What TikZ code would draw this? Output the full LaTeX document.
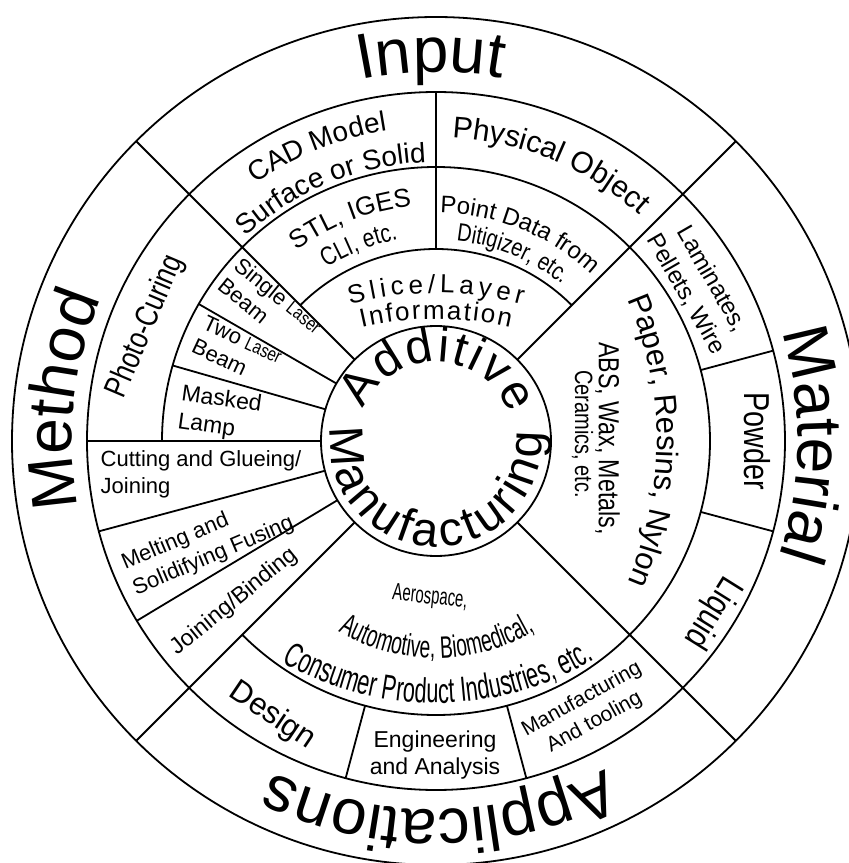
\documentclass[tikz,border=0pt]{standalone}
\usepackage{fontspec}
\setmainfont{Liberation Sans}
\newfontfamily\nar[FakeStretch=0.8]{Liberation Sans}
\newfontfamily\cnd[FakeStretch=0.62]{Liberation Sans}
\usetikzlibrary{decorations.text}
\tikzstyle{ring} = [line width=1.8pt]
\tikzstyle{lbl} = [inner sep=0pt]
\newcommand{\fsz}[1]{\fontsize{#1}{#1}\selectfont}
% text on an arc: direction, baseline distance, bend radius, half length, align, text
\newcommand{\cwtext}[6]{%
  \pgfmathsetmacro\halfang{#4/#3*57.2958}%
  \path[decorate,decoration={text along path,text align={#5},text={#6}}]
    ({(#2-#3)*cos(#1)+#3*cos(#1+\halfang)},{(#2-#3)*sin(#1)+#3*sin(#1+\halfang)})
    arc[start angle=#1+\halfang,end angle=#1-\halfang,radius=#3];}
\newcommand{\ccwtext}[6]{%
  \pgfmathsetmacro\halfang{#4/#3*57.2958}%
  \path[decorate,decoration={text along path,text align={#5},text={#6}}]
    ({(#2-#3)*cos(#1)+#3*cos(#1-\halfang)},{(#2-#3)*sin(#1)+#3*sin(#1-\halfang)})
    arc[start angle=#1-\halfang,end angle=#1+\halfang,radius=#3];}

\begin{document}
\begin{tikzpicture}[x=1pt,y=1pt]

   \fill[white] (-436,-422) rectangle (413,441);
   \useasboundingbox (-436,-422) rectangle (413,441);
   \coordinate (hub) at (0,0);

   % rings and spokes
   \foreach \r in {424,349,115} \draw[ring] (hub) circle[radius=\r];
   \draw[ring] (-135:274) arc[start angle=-135,end angle=180,radius=274];
   \draw[ring] (45:192) arc[start angle=45,end angle=135,radius=192];
   \foreach \a in {45,135,225,315} \draw[ring] (\a:424) -- (\a:115);
   \draw[ring] (90:349) -- (90:192);
   \foreach \a in {15,-15,-75,-105} \draw[ring] (\a:349) -- (\a:274);
   \foreach \a in {180,195,211} \draw[ring] (\a:349) -- (\a:115);
   \foreach \a in {150,164} \draw[ring] (\a:274) -- (\a:115);

   % outer ring
   \cwtext{90.8}{369}{369}{150}{center}{|\fsz{64}|Input}
   \cwtext{-0.5}{362}{362}{200}{center}{|\fsz{64}|Material}
   \cwtext{173.75}{364}{364}{200}{center}{|\fsz{64}|Method}
   \cwtext{-89.5}{369}{369}{250}{center}{|\fsz{64}|Applications}

   % hub
   \cwtext{88.25}{79}{79}{94}{fit to path}{|\fsz{48}|Additive}
   \ccwtext{268.75}{106}{106}{178}{fit to path}{|\fsz{48}|Manufacturing}

   % input
   \cwtext{112}{314}{314}{150}{center}{|\fsz{28}|CAD Model}
   \cwtext{112.5}{279}{279}{150}{center}{|\fsz{28}|Surface or Solid}
   \cwtext{67.5}{304}{304}{150}{center}{|\fsz{30}|Physical Object}
   \cwtext{111}{236}{236}{120}{center}{|\fsz{26}|STL, IGES}
   \cwtext{111.5}{205}{205}{120}{center}{|\nar\fsz{26}|CLI, etc.}
   \cwtext{68}{228}{228}{120}{center}{|\fsz{24}|Point Data from}
   \cwtext{67.7}{201}{201}{120}{center}{|\nar\fsz{25}|Ditigizer, etc.}
   \cwtext{90}{148}{330}{87}{fit to path}{|\fsz{26}|Slice/Layer}
   \cwtext{90}{122}{330}{75}{fit to path}{|\fsz{26}|Information}

   % material
   \node[lbl, align=center, rotate=-60, font=\fontsize{24}{30}\selectfont]
        (lamin) at (30.4:305) {Laminates,\\Pellets, Wire};
   \node[lbl, rotate=-90, font=\nar\fsz{36}] (powder) at (0:321) {Powder};
   \node[lbl, rotate=-122, font=\nar\fsz{36}] (liquid) at (-31.8:325) {Liquid};
   \cwtext{0}{221}{355}{200}{center}{|\fsz{31}|Paper, Resins, Nylon}
   \node[lbl, rotate=-90, font=\nar\fsz{29}] (abs) at (171.5,2.5) {ABS, Wax, Metals,};
   \node[lbl, rotate=-90, font=\nar\fsz{25}] (ceram) at (146.5,7) {Ceramics, etc.};

   % applications
   \node[lbl, rotate=-6, font=\cnd\fsz{24}] (aero) at (-6,-157) {Aerospace,};
   \ccwtext{-89.8}{217}{195}{150}{center}{|\cnd\fsz{31}|Automotive, Biomedical,}
   \ccwtext{-89.5}{262}{311}{200}{center}{|\cnd\fsz{35}|Consumer Product Industries, etc.}
   \node[lbl, rotate=-34, font=\fsz{31}] (design) at (-164,-275) {Design};
   \node[lbl, align=center, font=\fontsize{23}{27}\selectfont]
        (eng) at (-1,-314) {Engineering\\and Analysis};
   \node[lbl, align=center, rotate=29, font=\fontsize{21}{26}\selectfont]
        (tooling) at (-60.6:310) {Manufacturing\\And tooling};

   % method
   \node[lbl, rotate=67, font=\nar\fsz{32}] (photo) at (158.5:312) {Photo-Curing};
   \node[lbl, align=left, rotate=-39, font=\fontsize{22}{26}\selectfont]
        (single) at (140.7:214) {Single {\nar\fsz{19}Laser}\\Beam};
   \node[lbl, align=left, rotate=-25, font=\fontsize{22}{26}\selectfont]
        (two) at (155.7:218) {Two {\nar\fsz{19}Laser}\\Beam};
   \node[lbl, align=left, rotate=-8, font=\fontsize{23}{28}\selectfont]
        (masked) at (172.9:218) {Masked\\Lamp};
   \node[lbl, align=left, font=\fontsize{22}{27}\selectfont]
        (cutting) at (-235,-33) {Cutting and Glueing/\\Joining};
   \node[lbl, align=left, rotate=23, font=\fontsize{22}{28}\selectfont]
        (melting) at (204.2:250) {Melting and\\Solidifying Fusing};
   \node[lbl, rotate=39, font=\fsz{23}] (binding) at (218.6:258) {Joining/Binding};

\end{tikzpicture}
\end{document}
